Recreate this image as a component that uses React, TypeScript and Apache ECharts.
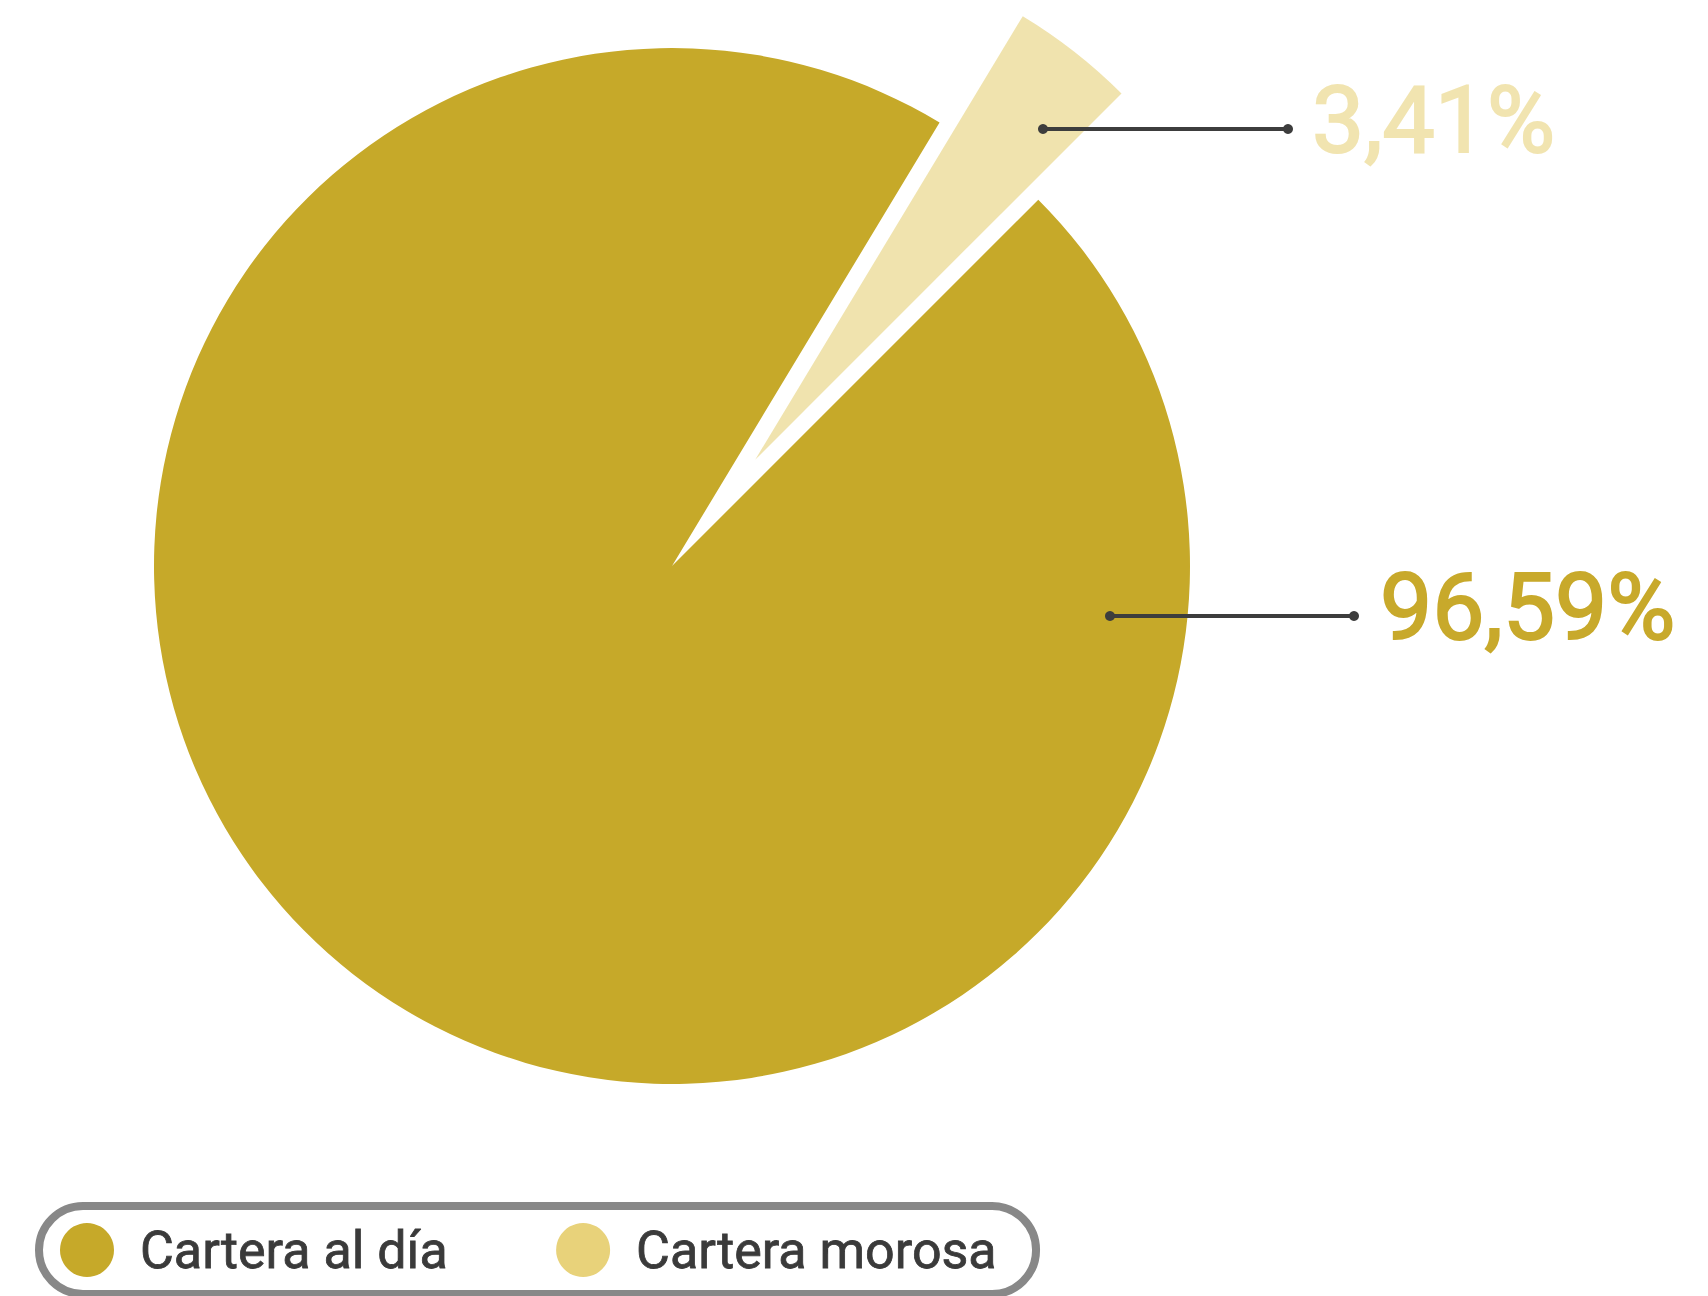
import React, { useEffect, useRef } from "react";
import * as echarts from "echarts";

// ---- data ----
const categories = ["Cartera al día", "Cartera morosa"];
const shares = [96.59, 3.41];
const sliceColors = ["#C6A929", "#F0E3AE"];
const labelColors = ["#C8A92B", "#F1E4B0"];
const legendColors = ["#C6A929", "#E8D27A"];
const explodedSlice = [false, true];

// ---- layout ----
const CENTER = [672, 566];
const RADIUS = 518;
const START_ANGLE = 45;
const MIN_ANGLE = 13.9;
const EXPLODE_OFFSET = 135;
// label leader lines (px, page coords)
const LEADERS = [
  { x0: 1110, x1: 1354, y: 616, tx: 1380, ty: 607 },
  { x0: 1043, x1: 1288, y: 129, tx: 1312, ty: 120 },
];

const FONT = "Roboto, 'Noto Sans', sans-serif";
const NONE = "rgba(0,0,0,0)";

const fmt = (v: number) => v.toFixed(2).replace(".", ",") + "%";

// slice spans (degrees) honoring minAngle -> translation of exploded slices
function sliceOffsets() {
  const total = shares.reduce((a, b) => a + b, 0);
  let spans = shares.map((v) => (v / total) * 360);
  const small = spans.map((s) => s < MIN_ANGLE);
  const fixed = small.reduce((a, s) => a + (s ? MIN_ANGLE : 0), 0);
  const restRaw = spans.reduce((a, s, i) => a + (small[i] ? 0 : s), 0);
  spans = spans.map((s, i) => (small[i] ? MIN_ANGLE : (s / restRaw) * (360 - fixed)));
  let a = START_ANGLE;
  return spans.map((s, i) => {
    const mid = ((a - s / 2) * Math.PI) / 180;
    a -= s;
    if (!explodedSlice[i]) return [0, 0];
    return [Math.cos(mid) * EXPLODE_OFFSET, -Math.sin(mid) * EXPLODE_OFFSET];
  });
}

function pieSeries(visible: (i: number) => boolean, center: number[]) {
  return {
    type: "pie",
    center,
    radius: RADIUS,
    startAngle: START_ANGLE,
    clockwise: true,
    minAngle: MIN_ANGLE,
    avoidLabelOverlap: false,
    silent: true,
    emphasis: { disabled: true },
    label: {
      show: true,
      position: "outside",
      fontFamily: FONT,
      fontSize: 93,
      fontWeight: "normal",
      formatter: (p: any) => fmt(p.value),
    },
    labelLine: { show: false },
    labelLayout: (p: any) => {
      const L = LEADERS[p.dataIndex];
      return { x: L.tx, y: L.ty, align: "left", verticalAlign: "middle" };
    },
    data: categories.map((c, i) => ({
      name: c,
      value: shares[i],
      itemStyle: { color: visible(i) ? sliceColors[i] : NONE },
      label: {
        show: visible(i),
        color: labelColors[i],
        textBorderColor: labelColors[i],
        textBorderWidth: 2,
      },
    })),
  };
}

export default function App() {
  const ref = useRef<HTMLDivElement>(null);
  useEffect(() => {
    if (!ref.current) return;
    const chart = echarts.init(ref.current, undefined, { renderer: "svg" });
    const offs = sliceOffsets();

    const guides: any[] = [];
    LEADERS.forEach((L) => {
      guides.push({
        type: "line",
        shape: { x1: L.x0, y1: L.y, x2: L.x1, y2: L.y },
        style: { stroke: "#3D3D3D", lineWidth: 4 },
        z: 100,
      });
      [L.x0, L.x1].forEach((x) =>
        guides.push({
          type: "circle",
          shape: { cx: x, cy: L.y, r: 5 },
          style: { fill: "#3D3D3D" },
          z: 101,
        })
      );
    });

    const series: any[] = [pieSeries((i) => !explodedSlice[i], CENTER)];
    explodedSlice.forEach((ex, k) => {
      if (!ex) return;
      series.push(
        pieSeries((i) => i === k, [CENTER[0] + offs[k][0], CENTER[1] + offs[k][1]])
      );
    });

    chart.setOption({
      animation: false,
      backgroundColor: "#ffffff",
      legend: {
        left: 39,
        top: 1206,
        orient: "horizontal",
        icon: "circle",
        itemWidth: 96,
        itemHeight: 54,
        itemGap: 108,
        padding: [17, 39, 17, 21],
        borderColor: "#888888",
        borderWidth: 8,
        borderRadius: 70,
        selectedMode: false,
        textStyle: {
          fontFamily: FONT,
          fontSize: 52,
          fontWeight: "normal",
          lineHeight: 54,
          color: "#3A3A3A",
          textBorderColor: "#3A3A3A",
          textBorderWidth: 0.8,
        },
        data: categories.map((c, i) => ({
          name: c,
          itemStyle: { color: legendColors[i] },
        })),
      },
      graphic: guides,
      series,
    });
    return () => chart.dispose();
  }, []);
  return (
    <div
      ref={ref}
      style={{ position: "fixed", left: 0, top: 0, width: 1708, height: 1296 }}
    />
  );
}
